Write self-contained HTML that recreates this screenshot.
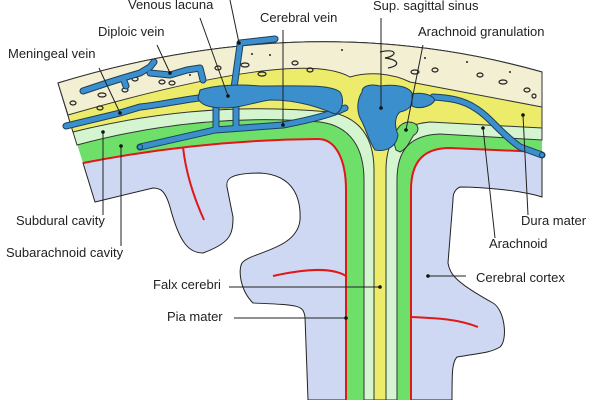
<!DOCTYPE html>
<html><head><meta charset="utf-8"><style>
html,body{margin:0;padding:0;background:#fff;}
svg{display:block;}
text{font-family:"Liberation Sans",sans-serif;font-size:13px;fill:#222;}
</style></head><body>
<svg width="600" height="400" viewBox="0 0 600 400" xmlns="http://www.w3.org/2000/svg">
<!-- overall green region -->
<path d="M58,83 Q310,6.5 542,72 L542,152 L450,148 C425,148 411,160 411,190 L411,400 L346,400 L346,190 C346,160 336,139 318,139 Q200,140 83,163 Z" fill="#6ee06a"/>
<!-- lavender left -->
<path d="M83,163 Q200,140 318,139 C336,139 346,160 346,190 L346,400 L308,400 L305,317 C303,305 300,305 253,303 C240,290 238,270 242,263 C250,252 297,250 300,220 C301,200 295,175 260,173 C228,173 226,180 227,187 L233,217 C233,235 230,243 203,253 C190,253 180,245 170,207 C165,190 160,188 153,188 L95,202 Z" fill="#cfd8f2" stroke="#222" stroke-width="1"/>
<!-- lavender right -->
<path d="M411,400 L411,190 C411,160 425,148 450,148 L542,152 L542,197 C520,190 480,187 460,187 C453,190 453,197 453,200 L448,263 C450,275 457,283 493,303 C505,310 508,340 500,347 C490,353 480,353 457,357 C452,362 452,373 452,400 Z" fill="#cfd8f2" stroke="#222" stroke-width="1"/>
<!-- red pia -->
<path d="M83,163 Q200,140 318,139 C336,139 346,160 346,190 L346,400" fill="none" stroke="#e01818" stroke-width="2"/>
<path d="M411,400 L411,190 C411,160 425,148 450,148 L542,152" fill="none" stroke="#e01818" stroke-width="2"/>
<path d="M183,147 C186,175 195,200 204,220" fill="none" stroke="#e01818" stroke-width="2"/>
<path d="M273,276 C300,270 330,266 346,276" fill="none" stroke="#e01818" stroke-width="2"/>
<path d="M412,317 C430,318 455,318 478,327" fill="none" stroke="#e01818" stroke-width="2"/>
<!-- light green arachnoid -->
<path d="M77,145 Q200,112 320,122 C352,126 364,150 364,180 L364,400 L397,400 L397,180 C397,150 410,135 440,134 L542,140 L542,72 Q310,6.5 58,83 Z" fill="#d4f5d0" stroke="#333" stroke-width="1"/>
<!-- yellow dura -->
<path d="M73,132 Q200,100 330,112 C362,118 374,140 374,170 L374,400 L386,400 L386,170 C386,140 398,125 430,122 L542,128 L542,72 Q310,6.5 58,83 Z" fill="#ecec6a" stroke="#333" stroke-width="1"/>
<!-- arachnoid granulation bulb -->
<path d="M396,150 C392,140 395,124 408,122 C420,122 420,132 414,135 C410,140 408,148 400,152 Z" fill="#6ee06a" stroke="#333" stroke-width="1"/>
<!-- bone -->
<path d="M68,115 Q300,48 350,77 C365,72 390,72 410,82 Q480,95 542,107 L542,72 Q310,6.5 58,83 Z" fill="#f3efd2" stroke="#333" stroke-width="1"/>
<!-- bone dots -->
<g fill="none" stroke="#222" stroke-width="1.2">
<ellipse cx="73" cy="103" rx="3" ry="2"/><ellipse cx="102" cy="95" rx="4" ry="2"/><ellipse cx="100" cy="108" rx="3" ry="2"/>
<ellipse cx="125" cy="90" rx="3" ry="2"/><ellipse cx="135" cy="79" rx="3" ry="2"/><ellipse cx="162" cy="82" rx="3" ry="2"/>
<ellipse cx="172" cy="83" rx="3" ry="2"/><ellipse cx="218" cy="68" rx="3" ry="2"/><ellipse cx="245" cy="65" rx="4" ry="2"/>
<ellipse cx="262" cy="74" rx="4" ry="2"/><ellipse cx="295" cy="63" rx="3" ry="2"/><ellipse cx="310" cy="70" rx="3" ry="2"/>
<ellipse cx="415" cy="72" rx="4" ry="2"/><ellipse cx="435" cy="70" rx="3" ry="2"/><ellipse cx="480" cy="75" rx="3" ry="2"/>
<ellipse cx="503" cy="82" rx="4" ry="2"/><ellipse cx="527" cy="90" rx="3" ry="2"/><ellipse cx="534" cy="96" rx="2" ry="2"/>
<path d="M380,52 C395,48 400,55 385,58 C400,60 400,66 388,68"/>
</g>
<g fill="#222"><circle cx="252" cy="54" r="1"/><circle cx="270" cy="55" r="1"/><circle cx="342" cy="50" r="1"/><circle cx="467" cy="62" r="1"/><circle cx="425" cy="58" r="1"/><circle cx="510" cy="72" r="1"/><circle cx="190" cy="75" r="1"/></g>
<!-- veins -->
<g fill="none" stroke-linecap="round" stroke-linejoin="round">
<g stroke="#1d3f5c" stroke-width="7">
<path d="M83,91 L107,83 L123,78 L140,73 L150,67 L154,62 M123,78 L126,86 M150,73 L170,75 L187,70 L200,68 L203,80"/>
<path d="M66,126 L120,113 L140,107 C160,105 180,100 207,97"/>
<path d="M240,43 L275,39 M240,45 L234,88"/>
<path d="M216,108 L216,128 M236,108 L236,128 M140,147 L215,130 L283,125 C310,120 330,115 345,108"/>
<path d="M433,97 C450,98 463,100 475,108 C490,117 500,133 520,147 L542,155"/>
</g>
<g stroke="#3b8fcc" stroke-width="5">
<path d="M83,91 L107,83 L123,78 L140,73 L150,67 L154,62 M123,78 L126,86 M150,73 L170,75 L187,70 L200,68 L203,80"/>
<path d="M66,126 L120,113 L140,107 C160,105 180,100 207,97"/>
<path d="M240,43 L275,39 M240,45 L234,88"/>
<path d="M216,108 L216,128 M236,108 L236,128 M140,147 L215,130 L283,125 C310,120 330,115 345,108"/>
<path d="M433,97 C450,98 463,100 475,108 C490,117 500,133 520,147 L542,155"/>
</g>
</g>
<!-- lacuna blob -->
<path d="M200,90 C215,85 240,84 260,86 C300,86 330,84 340,92 C345,100 342,112 335,114 C320,108 300,100 270,100 C255,102 240,108 225,108 C210,108 200,105 198,98 Z" fill="#3b8fcc" stroke="#1d3f5c" stroke-width="1"/>
<!-- sinus -->
<path d="M362,92 C362,85 372,84 380,86 C395,84 410,86 413,95 C413,105 410,110 400,112 C395,116 394,125 398,135 C396,148 385,152 375,150 C368,140 366,128 360,118 C356,108 358,98 362,92 Z" fill="#3b8fcc" stroke="#1d3f5c" stroke-width="1"/>
<path d="M412,94 C420,92 432,94 435,100 C432,106 420,110 412,106 Z" fill="#3b8fcc" stroke="#1d3f5c" stroke-width="1"/>
<circle cx="140" cy="147" r="2.5" fill="#3b8fcc" stroke="#1d3f5c"/>
<circle cx="542" cy="155" r="2.5" fill="#3b8fcc" stroke="#1d3f5c"/>
<!-- leader lines -->
<g stroke="#222" stroke-width="1" fill="none">
<path d="M200,18 L228,96 M230,0 L239,43 M157,45 L170,73 M99,68 L120,113 M283,30 L283,125 M381,18 L381,108 M423,45 L406,130 M103,132 L103,215 M121,146 L121,246 M523,115 L528,215 M483,128 L495,238 M428,276 L466,276 M229,287 L380,287 M234,318 L346,318"/>
</g>
<g fill="#111"><circle cx="228" cy="96" r="1.8"/><circle cx="170" cy="73" r="1.8"/><circle cx="120" cy="113" r="1.8"/><circle cx="283" cy="125" r="1.8"/><circle cx="381" cy="108" r="1.8"/><circle cx="406" cy="130" r="1.8"/><circle cx="103" cy="132" r="1.8"/><circle cx="121" cy="146" r="1.8"/><circle cx="523" cy="115" r="1.8"/><circle cx="483" cy="128" r="1.8"/><circle cx="428" cy="276" r="1.8"/><circle cx="380" cy="287" r="1.8"/><circle cx="346" cy="318" r="1.8"/><circle cx="239" cy="43" r="1.8"/></g>
<!-- labels -->
<text x="128" y="9">Venous lacuna</text>
<text x="98" y="36">Diploic vein</text>
<text x="8" y="58">Meningeal vein</text>
<text x="260" y="22">Cerebral vein</text>
<text x="373" y="10">Sup. sagittal sinus</text>
<text x="418" y="36">Arachnoid granulation</text>
<text x="16" y="225">Subdural cavity</text>
<text x="6" y="257">Subarachnoid cavity</text>
<text x="521" y="225">Dura mater</text>
<text x="489" y="248">Arachnoid</text>
<text x="476" y="282">Cerebral cortex</text>
<text x="153" y="289">Falx cerebri</text>
<text x="167" y="321">Pia mater</text>
</svg>
</body></html>
